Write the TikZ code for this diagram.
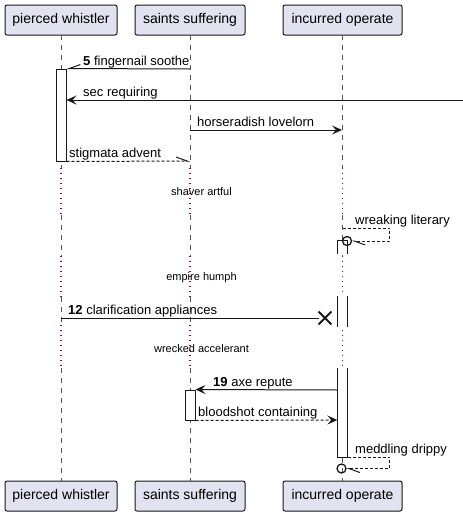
\documentclass[tikz,border=0pt]{standalone}
\usepackage{fontspec}
\setmainfont{Liberation Sans}
\usetikzlibrary{arrows.meta,shapes.misc}
\definecolor{partfill}{HTML}{E2E2F0}
\definecolor{partline}{HTML}{181818}
\definecolor{lifegray}{HTML}{555555}
\definecolor{delayred}{HTML}{A80036}

\begin{document}
\begin{tikzpicture}[
    x=1pt, y=-1pt,
    participant/.style={rectangle, rounded corners=2pt, draw=partline, fill=partfill,
                        line width=1pt, minimum height=30pt, inner sep=0pt,
                        font=\fontsize{14}{16}\selectfont},
    lifeline/.style={draw=lifegray, line width=1pt, dash pattern=on 5pt off 5pt},
    delayline/.style={draw=delayred, line width=1.2pt, dash pattern=on 1pt off 4pt},
    actbox/.style={rectangle, draw=partline, fill=white, line width=1pt,
                   minimum width=10pt, inner sep=0pt},
    actfill/.style={rectangle, fill=white, minimum width=10pt, inner sep=0pt},
    msg/.style={draw=partline, line width=1pt},
    reply/.style={msg, dash pattern=on 3pt off 2pt},
    arrow/.style={-{Stealth[length=10pt, width=9pt, inset=4pt]}},
    halfup/.style={-{Straight Barb[harpoon, length=11pt, width=8pt]}},
    halfdown/.style={-{Straight Barb[harpoon, swap, length=11pt, width=8pt]}},
    lostend/.style={circle, draw=partline, line width=1.3pt, minimum size=9pt,
                    inner sep=0pt, outer sep=0pt},
    msglabel/.style={anchor=base west, inner sep=0pt, font=\fontsize{13}{15}\selectfont},
    delaytext/.style={anchor=base, inner sep=0pt, font=\fontsize{11}{13}\selectfont},
]
\useasboundingbox (0,0) rectangle (463,517);

% Partecipanti
\node[participant, minimum width=112pt] (pwTop) at (61,20) {pierced whistler};
\node[participant, minimum width=110pt] (ssTop) at (190,20) {saints suffering};
\node[participant, minimum width=119pt] (ioTop) at (342.5,20) {incurred operate};
\node[participant, minimum width=112pt] (pwBot) at (61,496) {pierced whistler};
\node[participant, minimum width=110pt] (ssBot) at (190,496) {saints suffering};
\node[participant, minimum width=119pt] (ioBot) at (342.5,496) {incurred operate};

% Linee di vita
\foreach \p in {pw,ss,io} {
    \foreach \a/\b/\s in {35/168/lifeline, 168/215/delayline, 215/256/lifeline,
                          256/297/delayline, 297/325/lifeline, 325/368/delayline,
                          368/481/lifeline}
        \draw[\s] (\p Top.south |- 0,\a) -- (\p Top.south |- 0,\b);
}

% Attivazioni
\node[actbox, minimum height=92pt] (pwAct) at (61,115) {};
\node[actbox, minimum height=30pt] (ssAct) at (190,405) {};
\node[actfill, minimum height=13pt] (ioAct1) at (342.5,247.5) {};
\node[actfill, minimum height=31pt] (ioAct2) at (342.5,311.5) {};
\node[actfill, minimum height=89pt] (ioAct3) at (342.5,412.5) {};
\draw[msg] (ioAct1.south west) |- (ioAct1.north east) -- (ioAct1.south east);
\draw[msg] (ioAct2.north west) -- (ioAct2.south west);
\draw[msg] (ioAct2.north east) -- (ioAct2.south east);
\draw[msg] (ioAct3.north west) |- (ioAct3.south east) -- (ioAct3.north east);

% Messaggi
\coordinate (m1) at (190,69);
\draw[msg, halfdown] (m1) -- (pwAct.north east);
\node[msglabel] (t1) at (83,65) {\textbf{5} fingernail soothe};

\coordinate (m2) at (463,100);
\draw[msg, arrow] (m2) -- (pwAct.east |- m2);
\node[msglabel] (t2) at (83,96) {sec requiring};

\coordinate (m3a) at (190,130);
\coordinate (m3b) at (342,130);
\draw[msg, arrow] (m3a) -- (m3b);
\node[msglabel] (t3) at (197,126) {horseradish lovelorn};

\coordinate (m4) at (190,161);
\draw[reply, halfup] (pwAct.south east) -- (m4);
\node[msglabel] (t4) at (69,157) {stigmata advent};

\node[delaytext] (d1) at (201.5,195) {shaver artful};

\coordinate (m5) at (342.5,228);
\node[lostend] (c1) at (347,241) {};
\draw[reply, halfup] (m5) -- ++(47,0) |- (c1);
\node[msglabel] (t5) at (355,224) {wreaking literary};

\node[delaytext] (d2) at (201.5,280.5) {empire humph};

\coordinate (m6) at (61,318);
\node[cross out, draw=partline, line width=1.8pt, minimum size=11pt, inner sep=0pt] (x1) at (325,318) {};
\draw[msg] (m6) -- (x1);
\node[msglabel] (t6) at (68,314) {\textbf{12} clarification appliances};

\node[delaytext] (d3) at (201.5,352.5) {wrecked accelerant};

\coordinate (m7) at (ioAct3.west |- 0,390);
\draw[msg, arrow] (m7) -- (ssAct.north east);
\node[msglabel] (t7) at (213,386) {\textbf{19} axe repute};

\coordinate (m8) at (ioAct3.west |- 0,420);
\draw[reply, arrow] (ssAct.south east) -- (m8);
\node[msglabel] (t8) at (198,416) {bloodshot containing};

\node[lostend] (c2) at (341.5,468.5) {};
\draw[reply, halfup] (ioAct3.south east) -- ++(42,0) |- (c2);
\node[msglabel] (t9) at (355,453) {meddling drippy};

\end{tikzpicture}
\end{document}
